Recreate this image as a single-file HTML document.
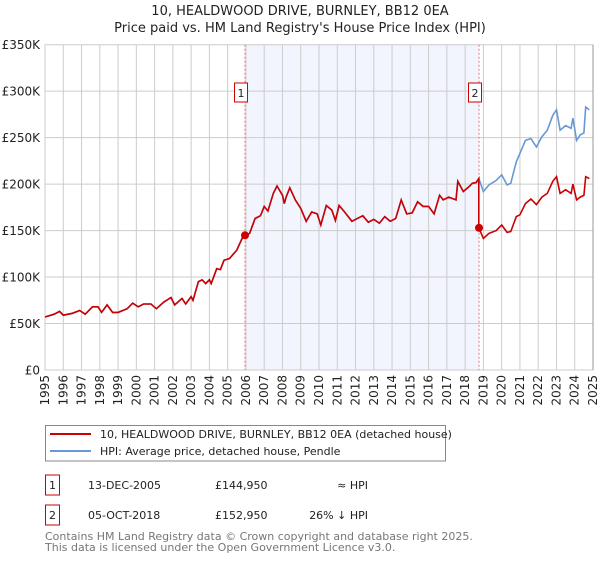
<!DOCTYPE html>
<html><head><meta charset="utf-8"><style>
body{margin:0;background:#fff;width:600px;height:560px;overflow:hidden;font-family:"DejaVu Sans","Liberation Sans",sans-serif;}
svg text{font-family:"DejaVu Sans","Liberation Sans",sans-serif;}
</style></head><body>
<svg id="c" width="600" height="560"></svg>
<script>
const years=[1995,1996,1997,1998,1999,2000,2001,2002,2003,2004,2005,2006,2007,2008,2009,2010,2011,2012,2013,2014,2015,2016,2017,2018,2019,2020,2021,2022,2023,2024,2025];
const yTicks=[0,50000,100000,150000,200000,250000,300000,350000];
const yTickLabels=["£0","£50K","£100K","£150K","£200K","£250K","£300K","£350K"];
const preT=[1995.0,1995.5,1995.8,1996.0,1996.5,1996.9,1997.2,1997.6,1997.9,1998.1,1998.4,1998.7,1999.0,1999.5,1999.8,2000.1,2000.4,2000.8,2001.1,2001.5,2001.9,2002.1,2002.5,2002.7,2003.0,2003.1,2003.4,2003.6,2003.8,2004.0,2004.1,2004.4,2004.6,2004.8,2005.1,2005.5,2005.8,2005.95,2006.2,2006.5,2006.8,2007.0,2007.2,2007.5,2007.7,2008.0,2008.1,2008.2,2008.4,2008.7,2009.0,2009.3,2009.6,2009.9,2010.1,2010.4,2010.7,2010.9,2011.1,2011.4,2011.8,2012.0,2012.4,2012.7,2013.0,2013.3,2013.6,2013.9,2014.2,2014.5,2014.8,2015.1,2015.4,2015.7,2016.0,2016.3,2016.6,2016.8,2017.1,2017.5,2017.6,2017.9,2018.2,2018.4,2018.6,2018.75];
const preV=[57,60,63,59,61,64,60,68,68,62,70,62,62,66,72,68,71,71,66,73,78,70,77,71,79,75,95,97,93,97,93,109,108,118,120,129,142,144.95,147,163,166,176,171,190,198,188,179,186,196,183,174,160,170,168,156,177,172,161,177,170,160,162,166,159,162,158,165,160,163,183,168,169,181,176,176,168,188,183,186,183,203,192,197,201,201.6,206];
const postT=[2018.75,2019.0,2019.3,2019.7,2020.0,2020.3,2020.5,2020.8,2021.0,2021.3,2021.6,2021.9,2022.2,2022.5,2022.8,2023.0,2023.2,2023.5,2023.8,2023.9,2024.1,2024.3,2024.5,2024.6,2024.8];
const hpiPost=[206,192,199,204,210,199,201,224,233,247,249,240,251,258,274,280,258,263,260,271,247,253,255,283,280];
const pricePost=[152.95,141.6,147,150,156,148,149,165,167,179,184,178,186,190,203,208,190,194,190,200,183,186,188,208,206];
const sales=[{t:2005.95,v:144950,label:"1"},{t:2018.76,v:152950,label:"2"}];

const NS="http://www.w3.org/2000/svg";
const svg=document.getElementById('c');
const X0=45,X1=593,Y0=370,Y1=44.7;
const xs=t=>X0+(t-1995)/30*(X1-X0);
const ys=v=>Y0-v/350000*(Y0-Y1);
function mk(tag,a,parent){const e=document.createElementNS(NS,tag);for(const k in a)e.setAttribute(k,a[k]);(parent||svg).appendChild(e);return e;}

let t=mk('text',{x:300,y:15,'text-anchor':'middle','font-size':13,fill:'#222'});t.textContent="10, HEALDWOOD DRIVE, BURNLEY, BB12 0EA";


t=mk('text',{x:300,y:32,'text-anchor':'middle','font-size':13,fill:'#222'});t.textContent="Price paid vs. HM Land Registry's House Price Index (HPI)";



let r=mk('rect',{x:xs(sales[0].t),y:Y1,width:xs(sales[1].t)-xs(sales[0].t),height:Y0-Y1,fill:'#f2f5fd'});



years.forEach(y=>{
  let l=mk('line',{x1:xs(y),x2:xs(y),y1:Y1,y2:Y0,stroke:'#cccccc','stroke-width':1});
  
  
  let tx=mk('text',{transform:`translate(${xs(y)+4},${Y0+5}) rotate(-90)`,'text-anchor':'end','font-size':12,fill:'#222'});
  tx.textContent=y;
  
  
});
yTicks.forEach((v,i)=>{
  let l=mk('line',{x1:X0,x2:X1,y1:ys(v),y2:ys(v),stroke:'#cccccc','stroke-width':1});
  
  
  let tx=mk('text',{x:40,y:ys(v)+4.5,'text-anchor':'end','font-size':12,fill:'#222'});
  tx.textContent=yTickLabels[i];
  
  
});
let ax=mk('line',{x1:X1,x2:X1,y1:Y1,y2:Y0,stroke:'#999','stroke-width':1});



sales.forEach(s=>{
  let l=mk('line',{x1:xs(s.t),x2:xs(s.t),y1:Y1,y2:Y0,stroke:'#e77','stroke-width':1,'stroke-dasharray':'2,2'});
  
  
});

const hpiPts=preT.map((tt,i)=>[tt,preV[i]]).concat(postT.map((tt,i)=>[tt,hpiPost[i]]));
const pricePts=preT.map((tt,i)=>[tt,preV[i]]).concat(postT.map((tt,i)=>[tt,pricePost[i]]));
const pathD=p=>p.map((q,i)=>(i?'L':'M')+xs(q[0]).toFixed(1)+','+ys(q[1]*1000).toFixed(1)).join(' ');
let ph=mk('path',{d:pathD(hpiPts),fill:'none',stroke:'#6a98d4','stroke-width':1.6});


let pp=mk('path',{d:pathD(pricePts),fill:'none',stroke:'#cc0000','stroke-width':1.6});



sales.forEach(s=>{
  let c=mk('circle',{cx:xs(s.t),cy:ys(s.v),r:4,fill:'#cc0000'});
  
  
  let g=mk('g',{});
  
  
  mk('rect',{x:xs(s.t)-10.5,y:83,width:13,height:19,fill:'#fff',stroke:'#cc0000','stroke-width':1},g);
  let tx=mk('text',{x:xs(s.t)-4,y:97,'text-anchor':'middle','font-size':11,fill:'#222'},g);
  tx.textContent=s.label;
});

// legend
let lg=mk('g',{});


mk('rect',{x:45.5,y:425.5,width:400,height:35.5,fill:'#fff',stroke:'#888','stroke-width':1},lg);
mk('line',{x1:50,x2:91,y1:434,y2:434,stroke:'#cc0000','stroke-width':2},lg);
mk('line',{x1:50,x2:91,y1:451,y2:451,stroke:'#6a98d4','stroke-width':2},lg);
t=mk('text',{x:100,y:438,'font-size':11,fill:'#222'},lg);t.textContent="10, HEALDWOOD DRIVE, BURNLEY, BB12 0EA (detached house)";


t=mk('text',{x:100,y:455,'font-size':11,fill:'#222'},lg);t.textContent="HPI: Average price, detached house, Pendle";



// table
const rows=[["1","13-DEC-2005","£144,950","≈ HPI",485],["2","05-OCT-2018","£152,950","26% ↓ HPI",515]];
rows.forEach(rw=>{
  let g=mk('g',{});
  
  
  mk('rect',{x:45.5,y:rw[4]-10,width:14,height:20,fill:'#fff',stroke:'#cc0000','stroke-width':1},g);
  let a=mk('text',{x:52.5,y:rw[4]+4,'text-anchor':'middle','font-size':11,fill:'#222'},g);a.textContent=rw[0];
  a=mk('text',{x:88,y:rw[4]+4,'font-size':11,fill:'#222'},g);a.textContent=rw[1];
  a=mk('text',{x:215,y:rw[4]+4,'font-size':11,fill:'#222'},g);a.textContent=rw[2];
  a=mk('text',{x:368,y:rw[4]+4,'text-anchor':'end','font-size':11,fill:'#222'},g);a.textContent=rw[3];
});
t=mk('text',{x:45,y:540,'font-size':11,fill:'#777'});t.textContent="Contains HM Land Registry data © Crown copyright and database right 2025.";


t=mk('text',{x:45,y:551,'font-size':11,fill:'#777'});t.textContent="This data is licensed under the Open Government Licence v3.0.";


</script>
</body></html>
